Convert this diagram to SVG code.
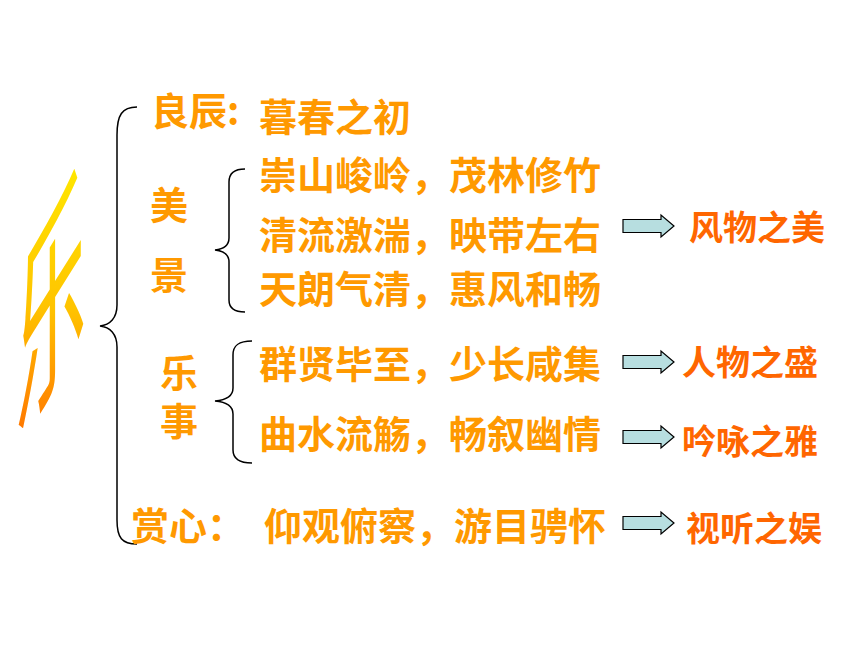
<svg xmlns="http://www.w3.org/2000/svg" width="860" height="645" viewBox="0 0 860 645">
<defs>
<linearGradient id="lg" gradientUnits="userSpaceOnUse" x1="80" y1="-88" x2="21.6" y2="19">
<stop offset="0" stop-color="#FFE800"/>
<stop offset="0.5" stop-color="#FFC400"/>
<stop offset="1" stop-color="#FF6A00"/>
</linearGradient>
<path id="arr" d="M0,-6.5 L38,-6.5 L38,-11 L51,0 L38,11 L38,6.5 L0,6.5 Z"/>
</defs>
<style>
.t{font-family:"Noto Sans CJK SC","Noto Sans CJK JP",sans-serif;font-weight:bold;fill:#FF9900;font-size:38px}
.r{font-family:"Noto Sans CJK SC","Noto Sans CJK JP",sans-serif;font-weight:bold;fill:#FF6600;font-size:34px}
.b{fill:none;stroke:#000;stroke-width:1.5}
.a{fill:#B7DEE0;stroke:#000;stroke-width:1.2}
</style>
<rect width="860" height="645" fill="#fff"/>
<g id="title">
<text transform="translate(16,436) skewY(-58) scale(0.7,2.1)" x="0" y="0" font-size="100" font-family="Noto Sans CJK SC, sans-serif" font-weight="normal" fill="url(#lg)">乐</text>
</g>
<g id="connectors">
<path class="b" d="M137,107 C122,107 117,115 117,135 L117,305 C117,318 110,325 100,326 C110,327 117,334 117,347 L117,520 C117,538 122,544 137,544"/>
<path class="b" d="M245,169 C234,169 229,173 229,182 L229,238 C229,245 224,249 215,250 C224,251 229,255 229,262 L229,300 C229,308 234,312 245,312"/>
<path class="b" d="M252,341 C239,341 233,345 233,355 L233,388 C233,396 226,400 215,401 C226,402 233,406 233,414 L233,450 C233,458 239,463 252,463"/>
<use href="#arr" class="a" x="623" y="226"/>
<use href="#arr" class="a" x="623" y="362"/>
<use href="#arr" class="a" x="623" y="437"/>
<use href="#arr" class="a" x="623" y="523"/>
</g>
<g id="liangchen">
<text class="t" x="151" y="125" font-size="36">良辰:</text>
<text class="t" x="259" y="131">暮春之初</text>
</g>
<g id="meijing">
<text class="t" x="150" y="219">美<tspan x="150" y="289">景</tspan></text>
<text class="t" x="259" y="189">崇山峻岭，茂林修竹</text>
<text class="t" x="259" y="249">清流激湍，映带左右</text>
<text class="t" x="259" y="303">天朗气清，惠风和畅</text>
</g>
<g id="leshi">
<text class="t" x="160" y="387" font-size="37">乐<tspan x="160" y="435">事</tspan></text>
<text class="t" x="259" y="378">群贤毕至，少长咸集</text>
<text class="t" x="259" y="448">曲水流觞，畅叙幽情</text>
</g>
<g id="shangxin">
<text class="t" x="131" y="540">赏心：</text>
<text class="t" x="264" y="540">仰观俯察，游目骋怀</text>
</g>
<g id="results">
<text class="r" x="689" y="240">风物之美</text>
<text class="r" x="682" y="375">人物之盛</text>
<text class="r" x="682" y="454">吟咏之雅</text>
<text class="r" x="686" y="541">视听之娱</text>
</g>
</svg>
